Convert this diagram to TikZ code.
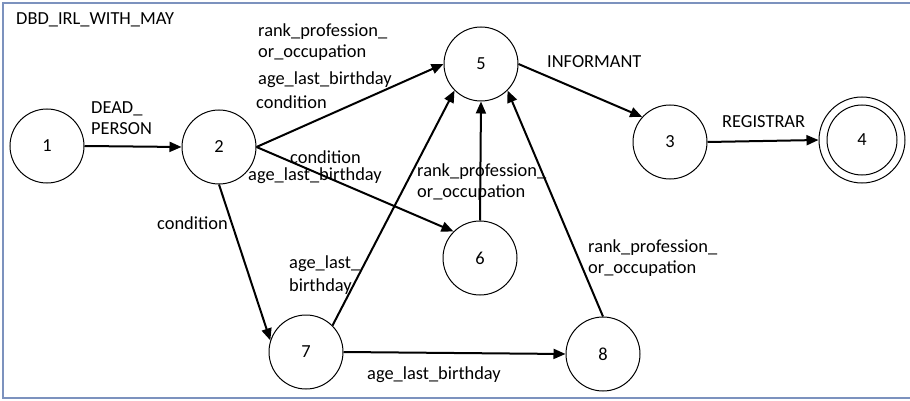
\documentclass[tikz,border=0pt]{standalone}
\usepackage{fontspec}
\setmainfont{Carlito}
\usetikzlibrary{arrows.meta}

\definecolor{DbdFrame}{RGB}{124,146,190}
\def\DbdStateSize{74pt}
\def\DbdFinalInnerSize{70pt}
\def\DbdFinalOuterSize{86pt}
\def\DbdStateLW{1pt}
\def\DbdTransLW{2pt}
\newcommand{\DbdStyles}{%
  \tikzset{
    dbstate/.style={circle, draw, line width=\DbdStateLW,
      minimum size=\DbdStateSize, inner sep=0pt},
    dbfinalinner/.style={dbstate, minimum size=\DbdFinalInnerSize},
    dbfinalouter/.style={dbstate, minimum size=\DbdFinalOuterSize},
    dbtrans/.style={
      ->,
      line width=\DbdTransLW,
      >={Triangle[length=12pt, width=10pt]}},
    dblabel/.style={anchor=west, align=left, inner sep=0pt},
    dbframe/.style={draw=DbdFrame, line width=1.5pt},
  }%
}

\begin{document}
\begin{tikzpicture}[x=1pt, y=-1pt, font=\fontsize{18.4}{21.5}\selectfont]
    \DbdStyles
    \useasboundingbox (0,0) rectangle (910,401);
    \draw[dbframe] (912,3) -- (3,3) -- (3,398) -- (912,398);

    % states
    \node[dbstate] (s1) at (47,146) {1};
    \node[dbstate] (s2) at (219,147) {2};
    \node[dbstate] (s5) at (481,64) {5};
    \node[dbstate] (s3) at (670,142) {3};
    \node[dbstate] (s6) at (480,258) {6};
    \node[dbstate] (s7) at (306,352) {7};
    \node[dbstate] (s8) at (603,354) {8};
    \node[dbfinalinner] (s4) at (862,140) {4};
    \node[dbfinalouter] (s4o) at (862,140) {};

    % transitions
    \draw[dbtrans] (s1.east) -- (s2.west);
    \draw[dbtrans] (s2.east) -- (s5.west);
    \draw[dbtrans] (s2.east) -- (s6.135);
    \draw[dbtrans] (s2.south) -- (s7.162);
    \draw[dbtrans] (s7.45) -- (s5.225);
    \draw[dbtrans] (s6.north) -- (s5.south);
    \draw[dbtrans] (s8.north) -- (s5.-45);
    \draw[dbtrans] (s7.east) -- (s8.west);
    \draw[dbtrans] (s5.east) -- (s3.138);
    \draw[dbtrans] (s3.east) -- (s4o.west);

    % labels
    \node[dblabel] (title) at (16,20) {DBD\_IRL\_WITH\_MAY};
    \node[dblabel] (l12) at (91,118) {DEAD\_\\PERSON};
    \node[dblabel] (l25a) at (258,42) {rank\_profession\_\\or\_occupation};
    \node[dblabel] (l25b) at (258,80) {age\_last\_birthday};
    \node[dblabel] (l25c) at (256,102) {condition};
    \node[dblabel] (l26a) at (290,157) {condition};
    \node[dblabel] (l26b) at (248,176) {age\_last\_birthday};
    \node[dblabel] (l65) at (417,182) {rank\_profession\_\\or\_occupation};
    \node[dblabel] (l27) at (157,223) {condition};
    \node[dblabel] (l75) at (289,275) {age\_last\_\\[2pt]birthday};
    \node[dblabel] (l78) at (367,375) {age\_last\_birthday};
    \node[dblabel] (l85) at (588,258) {rank\_profession\_\\or\_occupation};
    \node[dblabel] (l53) at (547,62) {INFORMANT};
    \node[dblabel] (l34) at (722,122) {REGISTRAR};
\end{tikzpicture}
\end{document}
